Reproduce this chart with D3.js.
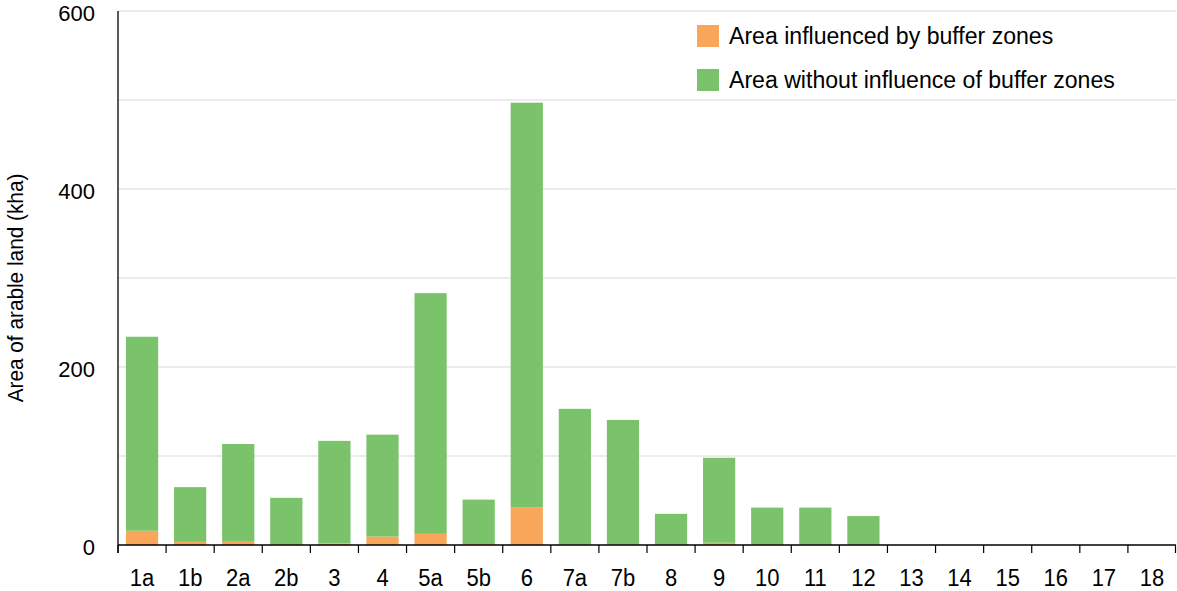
<!DOCTYPE html>
<html><head><meta charset="utf-8">
<script src="https://cdn.jsdelivr.net/npm/d3@7"></script>
<style>body{margin:0;background:#fff}text{font-family:"Liberation Sans",Arial,sans-serif;fill:#000}</style>
</head><body><svg id="c" width="1177" height="591"></svg>
<script>
const categories = ["1a","1b","2a","2b","3","4","5a","5b","6","7a","7b","8","9","10","11","12","13","14","15","16","17","18"];
const influenced = [16,3.5,4.5,0.5,2,9.5,12.5,1,42,0.3,0.3,0.3,2.5,0.5,0.3,0.3,0,0,0,0,0,0];
const totals = [234,65,113.5,53,117,124,283,51,497,153,140.5,35,98,42,42,32.5,0,0,0,0,0,0];
const without = totals.map((t,i)=>t-influenced[i]);
const yTicks = [0,200,400,600];
const gridTicks = [100,200,300,400,500,600];
const seriesNames = ["Area influenced by buffer zones","Area without influence of buffer zones"];
const colors = ["#F9A65A","#7AC36A"];

const svg = d3.select("#c");
const L=118, R=1176, T=11, B=545;
const x = d3.scaleBand().domain(categories).range([L,R]).paddingInner(0.33).paddingOuter(0.165);
const y = d3.scaleLinear().domain([0,600]).range([B,T]);

svg.append("g").selectAll("line").data(gridTicks).join("line")
  .attr("x1",L).attr("x2",R).attr("y1",d=>y(d)).attr("y2",d=>y(d))
  .attr("stroke","#d9d9d9").attr("stroke-width",1.2);

const data = categories.map((c,i)=>({c, a:influenced[i], b:without[i]}));
const stack = d3.stack().keys(["a","b"])(data);
svg.append("g").selectAll("g").data(stack).join("g").attr("fill",(d,i)=>colors[i])
  .selectAll("rect").data(d=>d).join("rect")
  .attr("x",d=>x(d.data.c)).attr("width",x.bandwidth())
  .attr("y",d=>y(d[1])).attr("height",d=>Math.max(0,y(d[0])-y(d[1])));

// y axis
svg.append("line").attr("x1",L).attr("x2",L).attr("y1",T).attr("y2",B+8).attr("stroke","#000").attr("stroke-width",1.3);
svg.append("g").selectAll("text").data(yTicks).join("text")
  .attr("x",95).attr("y",d=>y(d)+9.5).attr("text-anchor","end")
  .style("font-size","22px").text(d=>d);

// x axis
svg.append("line").attr("x1",L).attr("x2",R).attr("y1",B).attr("y2",B).attr("stroke","#000").attr("stroke-width",1.3);
const step = x.step();
svg.append("g").selectAll("line").data(categories).join("line")
  .attr("x1",d=>x(d)-x.paddingOuter()*step).attr("x2",d=>x(d)-x.paddingOuter()*step)
  .attr("y1",B).attr("y2",B+8).attr("stroke","#000").attr("stroke-width",1.2);
svg.append("line").attr("x1",R-0.5).attr("x2",R-0.5).attr("y1",B).attr("y2",B+8).attr("stroke","#000").attr("stroke-width",1.2);
svg.append("g").selectAll("text").data(categories).join("text")
  .attr("transform",d=>`translate(${x(d)+x.bandwidth()/2},586) scale(1,1.1)`).attr("text-anchor","middle")
  .style("font-size","22px").text(d=>d);

// y label
svg.append("text").attr("transform","translate(23,288) rotate(-90) scale(1.04,1.1)").attr("text-anchor","middle")
  .style("font-size","20px").text("Area of arable land (kha)");

// legend
const lg = svg.append("g");
seriesNames.forEach((n,i)=>{
  lg.append("rect").attr("x",697).attr("y",25+44*i).attr("width",22).attr("height",22).attr("fill",colors[i]);
  lg.append("text").attr("transform",`translate(729,${44+44*i}) scale(1.05,1.1)`).style("font-size","22px").text(n);
});
</script></body></html>
